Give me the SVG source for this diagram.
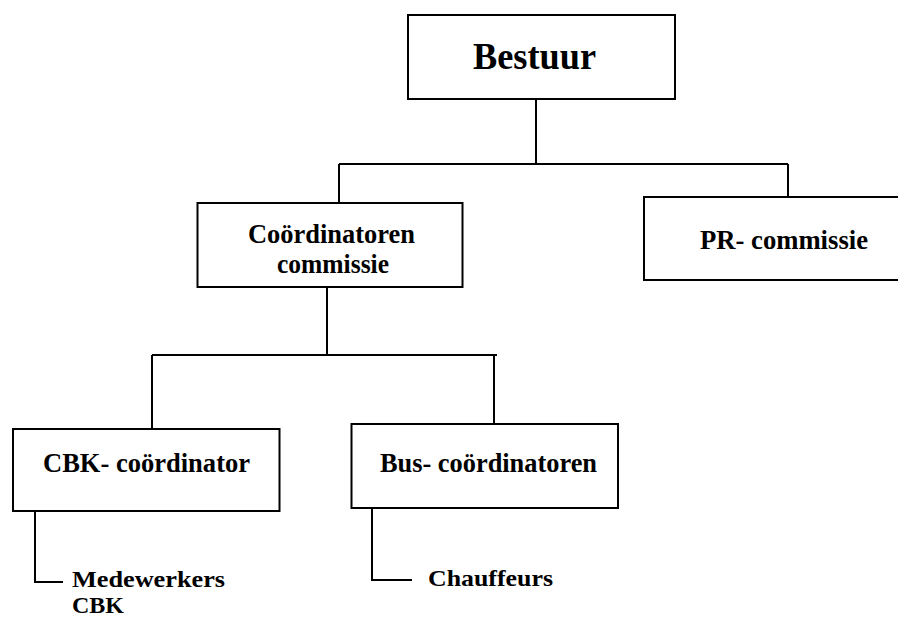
<svg xmlns="http://www.w3.org/2000/svg" width="898" height="619" viewBox="0 0 898 619">
<style>
.box{fill:#fff;stroke:#000;stroke-width:2}
.ln{fill:none;stroke:#000;stroke-width:2}
.t{font-family:"Liberation Serif","Times New Roman",serif;font-weight:bold;font-size:28px;fill:#000}
.s{font-size:24px}
.big{font-size:38px}
</style>
<rect width="898" height="619" fill="#fff"/>
<g id="connectors">
<path class="ln" d="M536 99V164M339 164H788M339 164V203M788 164V197"/>
<path class="ln" d="M327 287V355M152 355H497M152 355V429M494 355V424"/>
<path class="ln" d="M35 511V582H63"/>
<path class="ln" d="M372 508V580H412"/>
</g>
<g id="bestuur">
<rect class="box" x="408" y="15" width="267" height="84"/>
<text class="t big" x="473" y="69" textLength="123" lengthAdjust="spacingAndGlyphs">Bestuur</text>
</g>
<g id="coordinatoren">
<rect class="box" x="197.5" y="203" width="265" height="84"/>
<text class="t" x="248" y="243" textLength="167" lengthAdjust="spacingAndGlyphs">Coördinatoren</text>
<text class="t" x="277" y="273" textLength="112" lengthAdjust="spacingAndGlyphs">commissie</text>
</g>
<g id="pr">
<rect class="box" x="644" y="197" width="260" height="83"/>
<text class="t" x="700" y="249" textLength="168" lengthAdjust="spacingAndGlyphs">PR- commissie</text>
</g>
<g id="cbk">
<rect class="box" x="13" y="429" width="266.5" height="82"/>
<text class="t" x="43" y="472" textLength="207" lengthAdjust="spacingAndGlyphs">CBK- coördinator</text>
</g>
<g id="bus">
<rect class="box" x="351.5" y="424" width="266.5" height="84"/>
<text class="t" x="380" y="472" textLength="217" lengthAdjust="spacingAndGlyphs">Bus- coördinatoren</text>
</g>
<g id="medewerkers">
<text class="t s" x="72" y="587" textLength="153" lengthAdjust="spacingAndGlyphs">Medewerkers</text>
<text class="t s" x="72" y="613" textLength="52" lengthAdjust="spacingAndGlyphs">CBK</text>
</g>
<g id="chauffeurs">
<text class="t s" x="428" y="586" textLength="125" lengthAdjust="spacingAndGlyphs">Chauffeurs</text>
</g>
</svg>
